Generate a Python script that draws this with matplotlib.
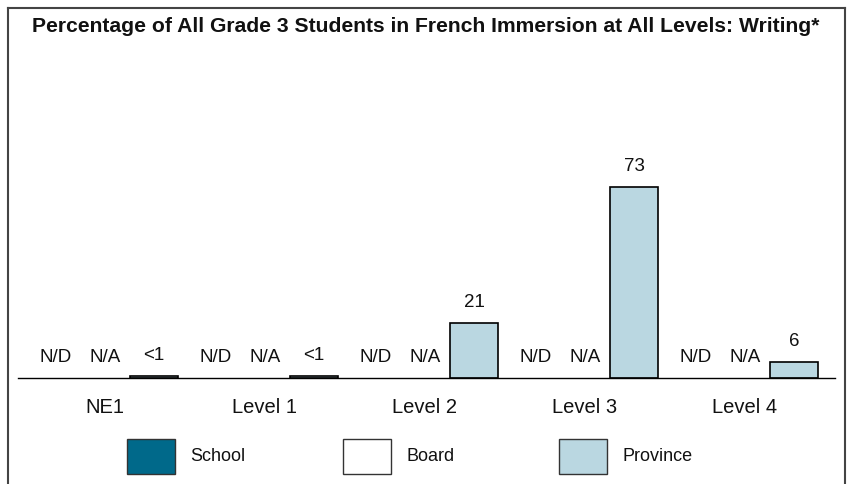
import matplotlib
matplotlib.use("Agg")
import matplotlib.pyplot as plt
from matplotlib.patches import Rectangle
from matplotlib.lines import Line2D
import numpy as np

plt.rcParams['font.family'] = ['Liberation Sans', 'DejaVu Sans']

title = "Percentage of All Grade 3 Students in French Immersion at All Levels: Writing*"
categories = ["NE1", "Level 1", "Level 2", "Level 3", "Level 4"]
series_names = ["School", "Board", "Province"]
school_values = [0, 0, 0, 0, 0]
school_labels = ["N/D", "N/D", "N/D", "N/D", "N/D"]
board_values = [0, 0, 0, 0, 0]
board_labels = ["N/A", "N/A", "N/A", "N/A", "N/A"]
province_values = [0.8, 0.8, 21, 73, 6]
province_labels = ["<1", "<1", "21", "73", "6"]

colors = ["#00698A", "#FFFFFF", "#BAD7E1"]

W, H = 851, 484
fig = plt.figure(figsize=(W / 100, H / 100), dpi=100)

# axes geometry in pixels
ax_left, ax_right, ax_bottom, ax_top = 18, 835, 378, 60
ax = fig.add_axes([ax_left / W, 1 - ax_bottom / H, (ax_right - ax_left) / W, (ax_bottom - ax_top) / H])

px_per_unit_y = 2.616
ax.set_ylim(0, (ax_bottom - ax_top) / px_per_unit_y)
grp_px = 160.0
center0 = 105.0
ax.set_xlim((ax_left - center0) / grp_px, (ax_right - center0) / grp_px)

x = np.arange(len(categories))
offset = 0.306
width = 0.30
series = [(school_values, school_labels), (board_values, board_labels), (province_values, province_labels)]
for i, ((vals, labs), col) in enumerate(zip(series, colors)):
    pos = x + (i - 1) * offset
    for p, v, lab in zip(pos, vals, labs):
        if v > 0:
            ax.bar(p, v, width=width, color=col, edgecolor="black", linewidth=1.2, zorder=2)
        ax.annotate(lab, (p, v), xytext=(0, 11.5), textcoords="offset points",
                    ha="center", va="baseline", fontsize=13.5, color="#111111")

for s in ["left", "right", "top"]:
    ax.spines[s].set_visible(False)
ax.spines["bottom"].set_linewidth(1.0)
ax.spines["bottom"].set_zorder(3)
ax.set_yticks([])
ax.set_xticks(x)
ax.set_xticklabels(categories, fontsize=14.5, color="#111111")
ax.tick_params(axis="x", length=0, pad=14.5)
ax.patch.set_alpha(0)

# title
fig.text(425.5 / W, 1 - 27 / H, title, ha="center", va="center", fontsize=15.2, fontweight="bold", color="#111111")

# border (left, top, right)
bc = "#444444"
fig.add_artist(Line2D([7.5 / W, 7.5 / W], [0, 1 - 7.5 / H], color=bc, linewidth=1.5, transform=fig.transFigure))
fig.add_artist(Line2D([7.5 / W, 844.5 / W], [1 - 7.5 / H, 1 - 7.5 / H], color=bc, linewidth=1.5, transform=fig.transFigure))
fig.add_artist(Line2D([844.5 / W, 844.5 / W], [0, 1 - 7.5 / H], color=bc, linewidth=1.5, transform=fig.transFigure))

# legend
sw_x = [127, 343, 559]
sw_w, sw_h = 48, 35
sw_top = 439
for name, col, sx in zip(series_names, colors, sw_x):
    fig.add_artist(Rectangle((sx / W, 1 - (sw_top + sw_h) / H), sw_w / W, sw_h / H,
                             facecolor=col, edgecolor="#333333", linewidth=1.0, transform=fig.transFigure))
    fig.text((sx + sw_w + 15) / W, 1 - (sw_top + sw_h / 2) / H, name, ha="left", va="center",
             fontsize=13, color="#111111")

fig.savefig("out.png", dpi=100)
